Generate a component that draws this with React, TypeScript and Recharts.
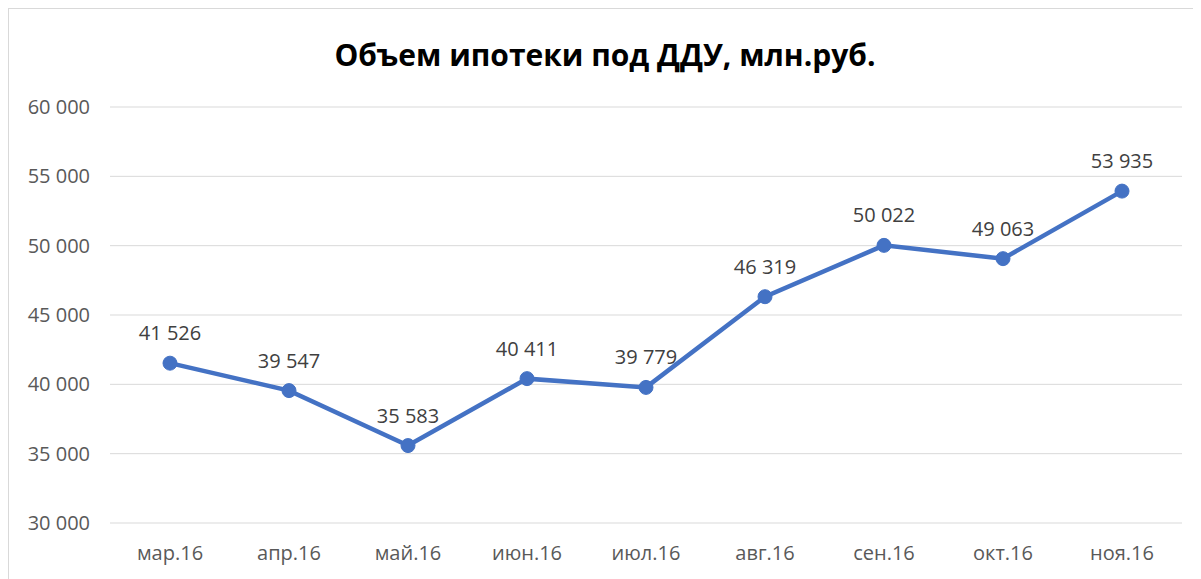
import React from 'react';
import { LineChart, Line, XAxis, YAxis, CartesianGrid, LabelList } from 'recharts';

const months = ['мар.16', 'апр.16', 'май.16', 'июн.16', 'июл.16', 'авг.16', 'сен.16', 'окт.16', 'ноя.16'];
const volumes = [41526, 39547, 35583, 40411, 39779, 46319, 50022, 49063, 53935];
const yTicks = [30000, 35000, 40000, 45000, 50000, 55000, 60000];

const data = months.map((month, i) => ({ month, value: volumes[i] }));

const fmt = (v: number) => String(v).replace(/\B(?=(\d{3})+(?!\d))/g, ' ');

const font = '"Open Sans", "Noto Sans", sans-serif';

export default function App() {
  return (
    <div
      style={{
        position: 'relative',
        width: 1192,
        height: 570,
        border: '1px solid #d9d9d9',
        fontFamily: font,
        background: '#fff',
      }}
    >
      <div
        style={{
          position: 'absolute',
          top: 25,
          left: 0,
          width: '100%',
          textAlign: 'center',
          fontSize: 30,
          fontWeight: 700,
          color: '#000',
        }}
      >
        Объем ипотеки под ДДУ, млн.руб.
      </div>
      <LineChart width={1192} height={570} data={data} margin={{ top: 98, right: 19, bottom: 26, left: 0 }}>
        <CartesianGrid vertical={false} stroke="#d9d9d9" />
        <XAxis
          dataKey="month"
          axisLine={false}
          tickLine={false}
          tickMargin={17}
          padding={{ left: 60, right: 60 }}
          tick={{ fill: '#595959', fontSize: 20, fontFamily: font }}
        />
        <YAxis
          width={101}
          domain={[30000, 60000]}
          ticks={yTicks}
          axisLine={false}
          tickLine={false}
          tickMargin={14}
          tickFormatter={fmt}
          tick={{ fill: '#595959', fontSize: 20, fontFamily: font }}
        />
        <Line
          dataKey="value"
          stroke="#4472c4"
          strokeWidth={4.5}
          dot={{ r: 7, fill: '#4472c4', stroke: '#4472c4', strokeWidth: 1 }}
          isAnimationActive={false}
        >
          <LabelList
            dataKey="value"
            position="top"
            offset={23}
            formatter={(v: any) => fmt(Number(v))}
            style={{ fill: '#404040', fontSize: 20, fontFamily: font }}
          />
        </Line>
      </LineChart>
    </div>
  );
}
